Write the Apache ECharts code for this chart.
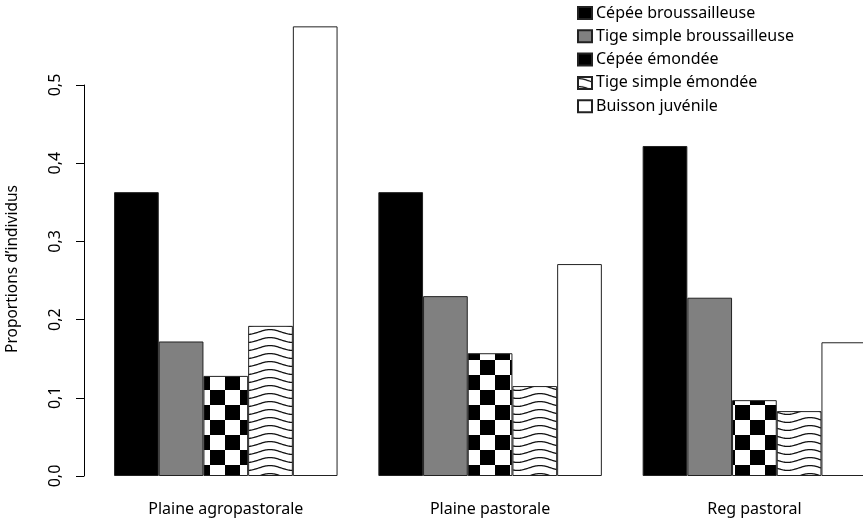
<!DOCTYPE html>
<html>
<head>
<meta charset="utf-8">
<script src="https://cdn.jsdelivr.net/npm/echarts@6/dist/echarts.min.js"></script>
<style>
  html, body { margin: 0; padding: 0; background: #fff; }
  #chart { width: 863px; height: 525px; }
</style>
</head>
<body>
<div id="chart"></div>
<script>
var sites = ["Plaine agropastorale", "Plaine pastorale", "Reg pastoral"];
var types = ["Cépée broussailleuse", "Tige simple broussailleuse", "Cépée émondée", "Tige simple émondée", "Buisson juvénile"];

// proportions par type, dans l'ordre des sites
var cepeeBrous = [0.363, 0.363, 0.422];
var tigeBrous = [0.172, 0.230, 0.228];
var cepeeEmond = [0.128, 0.157, 0.097];
var tigeEmond = [0.192, 0.115, 0.083];
var buisson = [0.575, 0.271, 0.171];

var yTicks = [0, 0.1, 0.2, 0.3, 0.4, 0.5];

var FONT = "Noto Sans";

// motif damier
var makeChecker = function () {
    var c = document.createElement("canvas");
    c.width = 30; c.height = 30;
    var ctx = c.getContext("2d");
    ctx.fillStyle = "#fff";
    ctx.fillRect(0, 0, 30, 30);
    ctx.fillStyle = "#000";
    ctx.fillRect(0, 0, 15, 15);
    ctx.fillRect(15, 15, 15, 15);
    return c;
};

// motif vagues horizontales
var makeWaves = function () {
    var w = 45, h = 8;
    var c = document.createElement("canvas");
    c.width = w; c.height = h;
    var ctx = c.getContext("2d");
    ctx.fillStyle = "#fff";
    ctx.fillRect(0, 0, w, h);
    ctx.strokeStyle = "#111";
    ctx.lineWidth = 1.3;
    [-h, 0, h].forEach(function (off) {
        ctx.beginPath();
        for (var x = 0; x <= w; x++) {
            var y = 4 + off - 2.4 * Math.cos(2 * Math.PI * x / w);
            if (x === 0) ctx.moveTo(x, y); else ctx.lineTo(x, y);
        }
        ctx.stroke();
    });
    return c;
};

var fills = [
    "#000000",
    "#808080",
    { image: makeChecker(), repeat: "repeat" },
    { image: makeWaves(), repeat: "repeat" },
    "#ffffff"
];
var values = [cepeeBrous, tigeBrous, cepeeEmond, tigeEmond, buisson];

var series = types.map(function (name, i) {
    return {
        name: name,
        type: "bar",
        xAxisIndex: 0,
        yAxisIndex: 0,
        data: values[i],
        barWidth: 44.7,
        barGap: "0%",
        clip: false,
        itemStyle: { color: fills[i], borderColor: "#222", borderWidth: 1 },
        emphasis: { disabled: true }
    };
});

var myChart = echarts.init(document.getElementById("chart"), null, { renderer: "canvas" });

myChart.setOption({
    animation: false,
    backgroundColor: "#fff",
    textStyle: { fontFamily: FONT },
    legend: {
        orient: "vertical",
        left: 577,
        top: 5,
        padding: 0,
        itemWidth: 14,
        itemHeight: 12,
        itemGap: 7.3,
        icon: "rect",
        textStyle: { fontFamily: FONT, fontSize: 16, color: "#000", padding: [0, 0, 0, -1] },
        data: types
    },
    grid: [
        // groupes centrés sur les points de la catégorie (boundaryGap false)
        { left: 225.8, width: 528.6, top: 6.8, bottom: 49 },
        { left: 84, width: 10, top: 85, bottom: 49 }
    ],
    xAxis: [
        {
            type: "category",
            gridIndex: 0,
            data: sites,
            boundaryGap: false,
            axisLine: { show: false },
            axisTick: { show: false },
            axisLabel: { margin: 25, fontFamily: FONT, fontSize: 16, color: "#000" }
        },
        { type: "value", gridIndex: 1, show: false }
    ],
    yAxis: [
        { type: "value", gridIndex: 0, min: 0, max: 0.6, show: false },
        {
            type: "value",
            gridIndex: 1,
            min: 0,
            max: 0.5,
            interval: 0.1,
            axisLine: { show: true, lineStyle: { color: "#000", width: 1 } },
            axisTick: { show: true, length: 8, lineStyle: { color: "#000" }, customValues: yTicks },
            splitLine: { show: false },
            axisLabel: {
                rotate: 90,
                margin: 21,
                fontFamily: FONT,
                fontSize: 16,
                color: "#000",
                customValues: yTicks,
                formatter: function (v) { return v.toFixed(1).replace(".", ","); }
            }
        }
    ],
    graphic: [{
        type: "text",
        x: 13,
        y: 269,
        rotation: Math.PI / 2,
        style: {
            text: "Proportions d’individus",
            fontFamily: FONT,
            fontSize: 15.5,
            fill: "#000",
            align: "center",
            verticalAlign: "middle"
        }
    }],
    series: series
});
</script>
</body>
</html>
